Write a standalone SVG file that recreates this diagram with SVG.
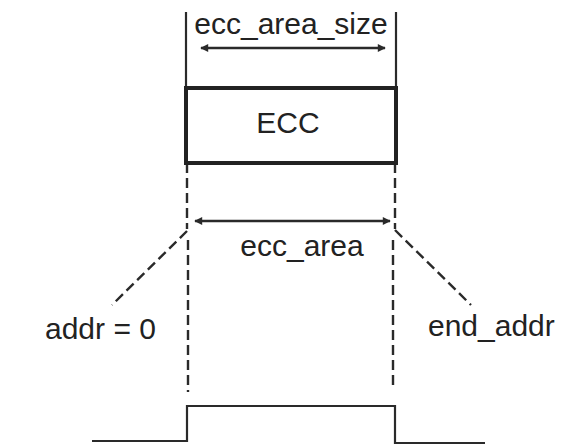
<svg xmlns="http://www.w3.org/2000/svg" width="562" height="446" viewBox="0 0 562 446">
<style>
text{font-family:"Liberation Sans",Arial,sans-serif;font-size:30px;fill:#222;}
.solid{stroke:#2a2a2a;stroke-width:2.2;fill:none;}
.dash{stroke:#2a2a2a;stroke-width:2.4;fill:none;stroke-dasharray:10 5;}
.arr{stroke:#2a2a2a;stroke-width:2.4;fill:none;marker-start:url(#ah);marker-end:url(#ah);}
</style>
<defs>
<marker id="ah" viewBox="0 0 10 10" refX="9" refY="5" markerWidth="11" markerHeight="8" markerUnits="userSpaceOnUse" orient="auto-start-reverse">
<path d="M0,0 L10,5 L0,10 z" fill="#2a2a2a"/>
</marker>
</defs>
<rect width="562" height="446" fill="#fff"/>
<g id="connectors">
<line class="solid" x1="186" y1="12" x2="186" y2="88"/>
<line class="solid" x1="396" y1="12" x2="396" y2="88"/>
<line class="arr" x1="201" y1="48" x2="385" y2="48"/>
<line class="dash" x1="187" y1="163" x2="187" y2="229"/>
<line class="dash" x1="395" y1="163" x2="395" y2="229"/>
<line class="dash" x1="187" y1="231" x2="112" y2="305"/>
<line class="dash" x1="395" y1="230" x2="471" y2="305"/>
<line class="dash" x1="188" y1="240" x2="188" y2="392"/>
<line class="dash" x1="393" y1="240" x2="393" y2="390"/>
<line class="arr" x1="195" y1="221" x2="390" y2="221"/>
<polyline class="solid" points="92,441 187,441 187,406 395,406 395,443 485,443"/>
</g>
<g id="label-size"><text x="291" y="34" text-anchor="middle">ecc_area_size</text></g>
<g id="ecc">
<rect x="186" y="88" width="210" height="75" fill="#fff" stroke="#222" stroke-width="4"/>
<text x="288" y="133" text-anchor="middle">ECC</text>
</g>
<g id="label-area"><text x="302" y="256" text-anchor="middle">ecc_area</text></g>
<g id="label-addr0"><text x="45" y="339">addr = 0</text></g>
<g id="label-end"><text x="428" y="336">end_addr</text></g>
</svg>
